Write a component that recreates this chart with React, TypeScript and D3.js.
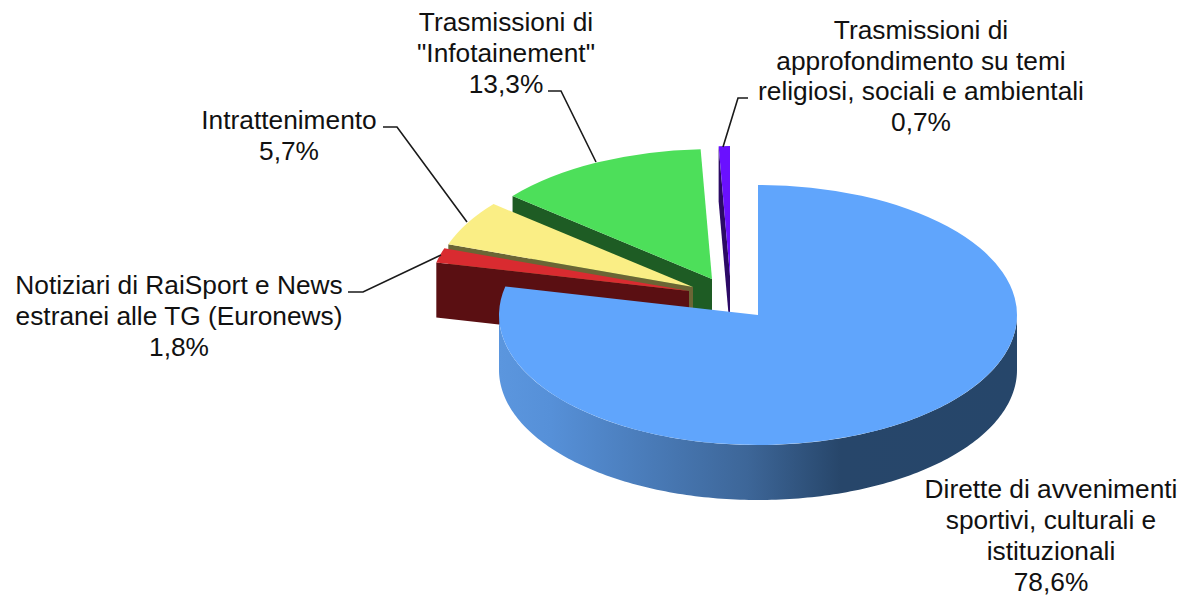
import React from "react";
import * as d3 from "d3";

// ---- data ----
const categories = [
  "Dirette di avvenimenti sportivi, culturali e istituzionali",
  "Notiziari di RaiSport e News estranei alle TG (Euronews)",
  "Intrattenimento",
  'Trasmissioni di "Infotainement"',
  "Trasmissioni di approfondimento su temi religiosi, sociali e ambientali",
];
const shares = [78.6, 1.8, 5.7, 13.3, 0.7];
const shareLabels = ["78,6%", "1,8%", "5,7%", "13,3%", "0,7%"];
const labelLines = [
  ["Dirette di avvenimenti", "sportivi, culturali e", "istituzionali"],
  ["Notiziari di RaiSport e News", "estranei alle TG (Euronews)"],
  ["Intrattenimento"],
  ["Trasmissioni di", '"Infotainement"'],
  ["Trasmissioni di", "approfondimento su temi", "religiosi, sociali e ambientali"],
];

// ---- layout & style ----
const W = 1184, H = 598;
const cx = 758, cy = 315, rx = 259, ry = 130, depth = 55;
const topColors = ["#60a5fc", "#d92b30", "#faee85", "#4ddf5a", "#6a10ff"];
const wallColors = ["#26466a", "#5a0f12", "#6b6535", "#1e5c24", "#2c0a66"];
const explode: [number, number][] = [[0, 0], [-69, -24], [-65, -28], [-46, -36], [-28, -39]];
const labelAnchors = [
  { x: 1051, y: 498, lh: 31 },
  { x: 179, y: 294, lh: 31 },
  { x: 289, y: 129, lh: 31 },
  { x: 506, y: 31, lh: 31 },
  { x: 921, y: 39, lh: 30.6 },
];
const leaders: [number, number][][] = [
  [],
  [[348, 292], [363, 292], [441, 255]],
  [[383, 127], [397, 127], [467, 222]],
  [[548, 91], [561, 91], [596, 162]],
  [[748, 98], [738, 98], [723, 147]],
];
const drawOrder = [4, 3, 2, 1, 0];

export default function App() {
  const pie = d3.pie<number>().sort(null).value((d) => d);
  const slices = pie(shares);
  const arc = d3.arc<d3.PieArcDatum<number>>().innerRadius(0).outerRadius(rx);
  const line = d3.line<[number, number]>();
  const yScale = ry / rx;

  const rim = (a: number, i: number): [number, number] => [
    cx + explode[i][0] + rx * Math.sin(a),
    cy + explode[i][1] - ry * Math.cos(a),
  ];

  const radialWall = (i: number) => {
    const a = slices[i].startAngle;
    const apex: [number, number] = [cx + explode[i][0], cy + explode[i][1]];
    const r = rim(a, i);
    return (
      line([
        r,
        apex,
        [apex[0], apex[1] + depth],
        [r[0], r[1] + depth],
      ]) + "Z"
    );
  };

  // front outer wall of the big slice, facing the viewer
  const frontAngles = d3.range(Math.PI / 2, (3 * Math.PI) / 2 + 0.001, Math.PI / 180);
  const frontWall = d3
    .area<number>()
    .x((a) => rim(a, 0)[0])
    .y0((a) => rim(a, 0)[1])
    .y1((a) => rim(a, 0)[1] + depth)(frontAngles);

  return (
    <svg
      width={W}
      height={H}
      viewBox={`0 0 ${W} ${H}`}
      style={{ position: "absolute", left: 0, top: 0, display: "block" }}
      fontFamily="'Liberation Sans', Arial, sans-serif"
    >
      <defs>
        <linearGradient id="wallGrad" gradientUnits="userSpaceOnUse" x1={cx - rx} x2={cx + rx} y1={0} y2={0}>
          <stop offset="0" stopColor="#5b96de" />
          <stop offset="0.1" stopColor="#5690d8" />
          <stop offset="0.48" stopColor="#3d6698" />
          <stop offset="0.66" stopColor="#27466a" />
          <stop offset="1" stopColor="#26466a" />
        </linearGradient>
      </defs>
      <rect width={W} height={H} fill="#ffffff" />

      {drawOrder.map((i) => (
        <g key={categories[i]}>
          {i !== 0 && <path d={radialWall(i)} fill={wallColors[i]} />}
          {i === 0 && <path d={frontWall ?? ""} fill="url(#wallGrad)" />}
          <g transform={`translate(${cx + explode[i][0]},${cy + explode[i][1]}) scale(1,${yScale})`}>
            <path d={arc(slices[i]) ?? ""} fill={topColors[i]} />
          </g>
        </g>
      ))}

      {leaders.map((pts, i) =>
        pts.length ? (
          <path key={i} d={line(pts) ?? ""} fill="none" stroke="#1a1a1a" strokeWidth={1.6} />
        ) : null
      )}

      {labelLines.map((lines, i) => (
        <text key={i} textAnchor="middle" fontSize={26.3} fill="#111111">
          {[...lines, shareLabels[i]].map((t, j) => (
            <tspan key={j} x={labelAnchors[i].x} y={labelAnchors[i].y + j * labelAnchors[i].lh}>
              {t}
            </tspan>
          ))}
        </text>
      ))}
    </svg>
  );
}
